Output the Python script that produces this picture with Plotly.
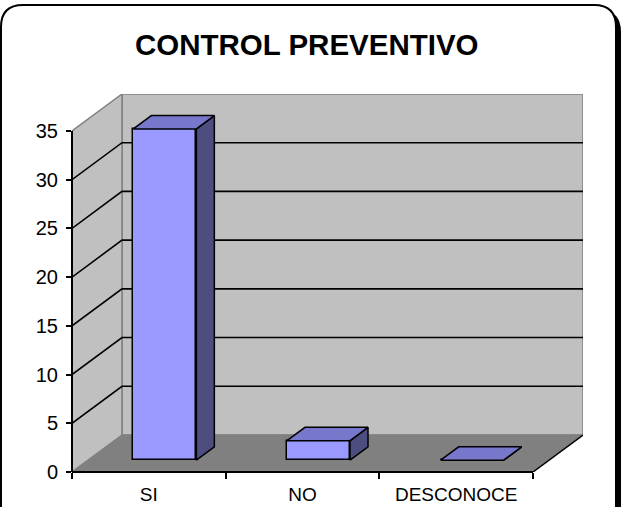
import plotly.graph_objects as go

# ---- data ----
categories = ["SI", "NO", "DESCONOCE"]
values = [34, 2, 0]
y_ticks = [0, 5, 10, 15, 20, 25, 30, 35]
y_max = 35

# ---- style / geometry ----
W, H = 626, 507
ML, MR, MT, MB = 72, 43, 94, 35
PW, PH = W - ML - MR, H - MT - MB
DX = 0.3254          # depth offset of the back wall, x units
DY = 3.8             # depth offset of the back wall, y units
F1, F2 = 0.32, 0.68  # bar front / back depth fractions
BW = 0.41            # bar width (category units)
FRONT = "#9999FF"
TOP = "#7777CC"
SIDE = "#4D4D80"
WALL = "#C0C0C0"
FLOOR = "#808080"
FONT = "Liberation Sans, Arial, sans-serif"

n = len(categories)
x0, x1 = -0.5, n - 0.5


def poly(pts, close=True):
    s = "M " + " L ".join(f"{x},{y}" for x, y in pts)
    return s + (" Z" if close else "")


shapes = []


def pp(px, py):
    return ((px - ML) / PW, (H - MB - py) / PH)


def rounded(l, t, r_, b, rad):
    a = pp(l, t + rad); c = pp(l, t); d = pp(l + rad, t)
    e = pp(r_ - rad, t); f = pp(r_, t); g = pp(r_, t + rad)
    h = pp(r_, b); k = pp(l, b)
    return (f"M {a[0]},{a[1]} Q {c[0]},{c[1]} {d[0]},{d[1]} L {e[0]},{e[1]} "
            f"Q {f[0]},{f[1]} {g[0]},{g[1]} L {h[0]},{h[1]} L {k[0]},{k[1]} Z")


# outer frame with shadow
shapes.append(dict(type="path", xref="paper", yref="paper", layer="below",
                   path=rounded(6, 10, 621, 540, 22), fillcolor="black",
                   line=dict(width=0)))
shapes.append(dict(type="path", xref="paper", yref="paper", layer="below",
                   path=rounded(1, 5, 616, 540, 22), fillcolor="white",
                   line=dict(color="black", width=2)))

# back wall
shapes.append(dict(type="path", xref="x", yref="y", layer="below",
                   path=poly([(x0 + DX, DY), (x1 + DX, DY), (x1 + DX, y_max + DY), (x0 + DX, y_max + DY)]),
                   fillcolor=WALL, line=dict(color="#808080", width=1.5)))
# left wall
shapes.append(dict(type="path", xref="x", yref="y", layer="below",
                   path=poly([(x0, 0), (x0 + DX, DY), (x0 + DX, y_max + DY), (x0, y_max)]),
                   fillcolor=WALL, line=dict(color="#808080", width=1.5)))
# floor
shapes.append(dict(type="path", xref="x", yref="y", layer="below",
                   path=poly([(x0, 0), (x1, 0), (x1 + DX, DY), (x0 + DX, DY)]),
                   fillcolor=FLOOR, line=dict(color="#808080", width=1)))
# gridlines
for v in y_ticks:
    if v == 0 or v == y_max:
        continue
    shapes.append(dict(type="path", xref="x", yref="y", layer="below",
                       path=poly([(x0, v), (x0 + DX, v + DY), (x1 + DX, v + DY)], close=False),
                       line=dict(color="black", width=1.6)))
# front edges
shapes.append(dict(type="line", xref="paper", yref="y", x0=0, x1=0, y0=0, y1=y_max,
                   line=dict(color="black", width=2)))
shapes.append(dict(type="line", xref="x", yref="paper", x0=x0, x1=x1, y0=0, y1=0,
                   line=dict(color="black", width=2)))
shapes.append(dict(type="line", xref="x", yref="y", x0=x1, x1=x1 + DX, y0=0, y1=DY,
                   line=dict(color="black", width=1.5)))

fig = go.Figure()

bx = [i + F1 * DX for i in range(n)]
base = F1 * DY
fig.add_trace(go.Bar(x=bx, y=values, base=base, width=BW,
                     marker=dict(color=FRONT, line=dict(color="black", width=1.5)),
                     showlegend=False, hoverinfo="skip"))

ddx, ddy = (F2 - F1) * DX, (F2 - F1) * DY
for cx, v in zip(bx, values):
    xl, xr = cx - BW / 2, cx + BW / 2
    top = base + v
    sx = [xr, xr + ddx, xr + ddx, xr, xr]
    sy = [base, base + ddy, top + ddy, top, base]
    fig.add_trace(go.Scatter(x=sx, y=sy, mode="lines", fill="toself", fillcolor=SIDE,
                             line=dict(color="black", width=1.5), showlegend=False,
                             hoverinfo="skip"))
    tx = [xl, xr, xr + ddx, xl + ddx, xl]
    ty = [top, top, top + ddy, top + ddy, top]
    fig.add_trace(go.Scatter(x=tx, y=ty, mode="lines", fill="toself", fillcolor=TOP,
                             line=dict(color="black", width=1.5), showlegend=False,
                             hoverinfo="skip"))

fig.update_layout(
    width=W, height=H,
    margin=dict(l=ML, r=MR, t=MT, b=MB, pad=0, autoexpand=False),
    paper_bgcolor="white", plot_bgcolor="rgba(0,0,0,0)",
    font=dict(family=FONT, color="black", size=20),
    title=dict(text="CONTROL PREVENTIVO", x=0.49, xref="container", xanchor="center",
               y=1 - 45 / H, yref="container", yanchor="middle", automargin=False,
               font=dict(family=FONT, size=29.5, weight=700, color="black")),
    shapes=shapes,
    bargap=0,
    xaxis=dict(range=[x0, x1 + DX], tickmode="array", tickvals=list(range(n)),
               ticktext=categories, ticks="", showgrid=False, zeroline=False,
               showline=False, ticklabelstandoff=9, automargin=False,
               tickfont=dict(size=19),
               minor=dict(tickmode="array", tickvals=[i - 0.5 for i in range(n + 1)],
                          ticks="outside", ticklen=6, tickwidth=1.5, tickcolor="black",
                          showgrid=False)),
    yaxis=dict(range=[0, y_max + DY], tickmode="array", tickvals=y_ticks,
               ticks="outside", ticklen=5, tickwidth=1.5, tickcolor="black",
               showgrid=False, zeroline=False, showline=False, ticklabelstandoff=4,
               automargin=False),
)

fig.write_html("out.html")
